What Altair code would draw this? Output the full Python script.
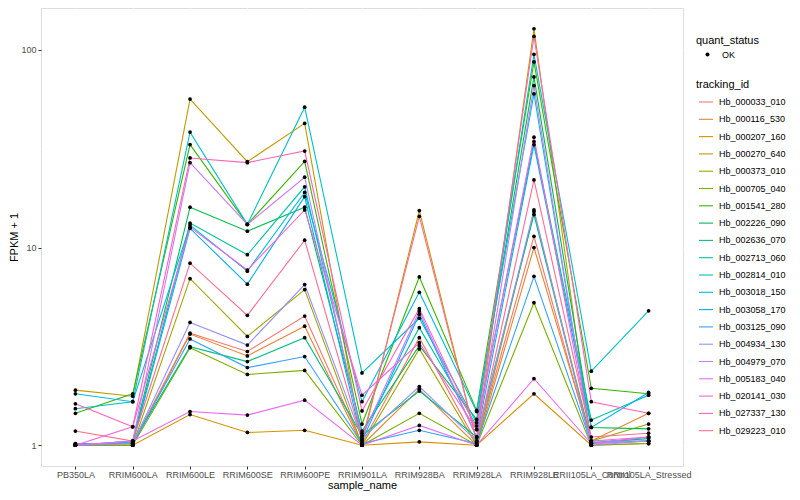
import altair as alt
import pandas as pd

samples = ["PB350LA", "RRIM600LA", "RRIM600LE", "RRIM600SE", "RRIM600PE", "RRIM901LA",
           "RRIM928BA", "RRIM928LA", "RRIM928LE", "RRII105LA_Control", "RRII105LA_Stressed"]

tracking_ids = ["Hb_000033_010", "Hb_000116_530", "Hb_000207_160", "Hb_000270_640", "Hb_000373_010",
                "Hb_000705_040", "Hb_001541_280", "Hb_002226_090", "Hb_002636_070", "Hb_002713_060",
                "Hb_002814_010", "Hb_003018_150", "Hb_003058_170", "Hb_003125_090", "Hb_004934_130",
                "Hb_004979_070", "Hb_005183_040", "Hb_020141_030", "Hb_027337_130", "Hb_029223_010"]

palette = ["#F8766D", "#EA8331", "#D89000", "#C09B00", "#A3A500", "#7CAE00", "#39B600", "#00BB4E",
           "#00BF7D", "#00C1A3", "#00BFC4", "#00BAE0", "#00B0F6", "#35A2FF", "#9590FF", "#C77CFF",
           "#E76BF3", "#FA62DB", "#FF62BC", "#FF6C91"]

# FPKM + 1, one row per tracking_id, columns in the order of `samples`
fpkm_plus_1 = [
    [1.00, 1.02, 3.69, 2.98, 4.50, 1.02, 3.50, 1.03, 11.4, 1.02, 1.05],
    [1.00, 1.00, 3.65, 2.83, 4.00, 1.00, 1.92, 1.00, 10.0, 1.05, 1.45],
    [1.00, 1.00, 1.43, 1.16, 1.19, 1.00, 1.04, 1.00, 1.82, 1.00, 1.02],
    [1.90, 1.77, 56.4, 27.2, 42.5, 1.02, 15.4, 1.05, 128., 1.02, 1.05],
    [1.00, 1.00, 6.96, 3.55, 6.13, 1.00, 3.07, 1.00, 15.2, 1.05, 1.28],
    [1.00, 1.00, 3.11, 2.28, 2.39, 1.00, 1.45, 1.00, 5.26, 1.00, 1.02],
    [1.45, 1.82, 33.2, 13.1, 27.3, 1.28, 7.10, 1.50, 87.0, 1.94, 1.82],
    [1.00, 1.05, 16.0, 12.1, 16.0, 1.18, 3.19, 1.35, 73.0, 1.23, 1.21],
    [1.00, 1.03, 3.15, 2.65, 3.50, 1.12, 1.88, 1.10, 14.7, 1.03, 1.08],
    [1.00, 1.04, 13.3, 9.20, 20.3, 1.15, 3.93, 1.25, 34.4, 1.34, 1.79],
    [1.53, 1.66, 38.4, 13.1, 51.3, 2.32, 4.39, 1.30, 95.0, 2.37, 4.79],
    [1.82, 1.66, 13.0, 7.60, 19.0, 1.66, 5.94, 1.48, 60.0, 1.05, 1.05],
    [1.02, 1.02, 12.5, 6.53, 18.1, 1.05, 4.60, 1.10, 33.1, 1.23, 1.85],
    [1.02, 1.02, 3.45, 2.47, 2.81, 1.02, 1.19, 1.02, 7.15, 1.02, 1.10],
    [1.00, 1.02, 4.18, 3.21, 6.50, 1.08, 1.98, 1.05, 15.5, 1.00, 1.05],
    [1.00, 1.05, 26.9, 13.1, 22.7, 1.10, 4.77, 1.10, 66.0, 1.02, 1.05],
    [1.00, 1.05, 1.48, 1.42, 1.69, 1.00, 1.26, 1.00, 2.17, 1.02, 1.10],
    [1.00, 1.24, 12.7, 7.70, 15.5, 1.79, 3.30, 1.20, 36.2, 1.05, 1.10],
    [1.62, 1.24, 28.4, 26.9, 30.8, 1.49, 4.91, 1.20, 117., 1.66, 1.45],
    [1.18, 1.05, 8.34, 4.54, 10.9, 1.06, 14.4, 1.05, 22.0, 1.10, 1.15],
]

major_breaks = [1, 10, 100]
minor_breaks = [3.1623, 31.623]
y_domain = [0.785, 163]

rows = []
for tid, vals in zip(tracking_ids, fpkm_plus_1):
    for i, (s, v) in enumerate(zip(samples, vals)):
        rows.append({"tracking_id": tid, "sample_name": s, "idx": i, "fpkm1": v, "quant_status": "OK"})
df = pd.DataFrame(rows)

FONT = "Liberation Sans"

x_enc = alt.X("sample_name:N", sort=samples,
              scale=alt.Scale(type="point", padding=0.6),
              axis=alt.Axis(title="sample_name", labelAngle=0, labelFontSize=9, labelColor="#4D4D4D",
                            tickColor="#333333", tickSize=3, labelPadding=1, domain=False,
                            grid=True, gridColor="white", gridWidth=1.1,
                            titleFontSize=11, titleFontWeight="normal", titleColor="black",
                            titlePadding=0))
y_enc = alt.Y("fpkm1:Q",
              scale=alt.Scale(type="log", domain=y_domain, nice=False, zero=False),
              axis=alt.Axis(title="FPKM + 1", values=major_breaks, format="d", labelFontSize=9,
                            labelColor="#4D4D4D", tickColor="#333333", tickSize=3, labelPadding=2,
                            domain=False, grid=True, gridColor="white", gridWidth=1.1,
                            titleFontSize=11, titleFontWeight="normal", titleColor="black",
                            titlePadding=1))

minor = alt.Chart(pd.DataFrame({"fpkm1": minor_breaks})).mark_rule(
    color="white", strokeWidth=0.55).encode(y=y_enc)

lines = alt.Chart(df).mark_line(strokeWidth=1.1).encode(
    x=x_enc, y=y_enc,
    color=alt.Color("tracking_id:N",
                    scale=alt.Scale(domain=tracking_ids, range=palette),
                    legend=alt.Legend(title="tracking_id", orient="none", legendX=655, legendY=71,
                                      symbolType="stroke", symbolSize=196, symbolStrokeWidth=1.1,
                                      symbolOffset=2, labelFontSize=9, labelColor="black",
                                      titleFontSize=11, titleFontWeight="normal", titleColor="black",
                                      rowPadding=4.3, titlePadding=4, labelOffset=5)),
    order=alt.Order("idx:Q"),
)

points = alt.Chart(df).mark_point(filled=True, size=14, color="black", opacity=1).encode(
    x=x_enc, y=y_enc,
    shape=alt.Shape("quant_status:N", scale=alt.Scale(range=["circle"]),
                    legend=alt.Legend(title="quant_status", orient="none", legendX=655, legendY=27,
                                      symbolSize=16, symbolFillColor="black", symbolStrokeColor="black",
                                      symbolOffset=7, labelFontSize=9, labelColor="black",
                                      titleFontSize=11, titleFontWeight="normal", titleColor="black",
                                      titlePadding=4, labelOffset=10)),
)

chart = alt.layer(minor, lines, points).properties(
    width=642, height=458,
    autosize=alt.AutoSizeParams(type="none"),
    padding={"left": 33, "top": 0, "right": 109, "bottom": 26},
).configure_view(fill="#EBEBEB", strokeWidth=0, stroke="transparent").configure(font=FONT, background="white")

chart.save("out.html", embed_options={"renderer": "svg", "actions": False})
